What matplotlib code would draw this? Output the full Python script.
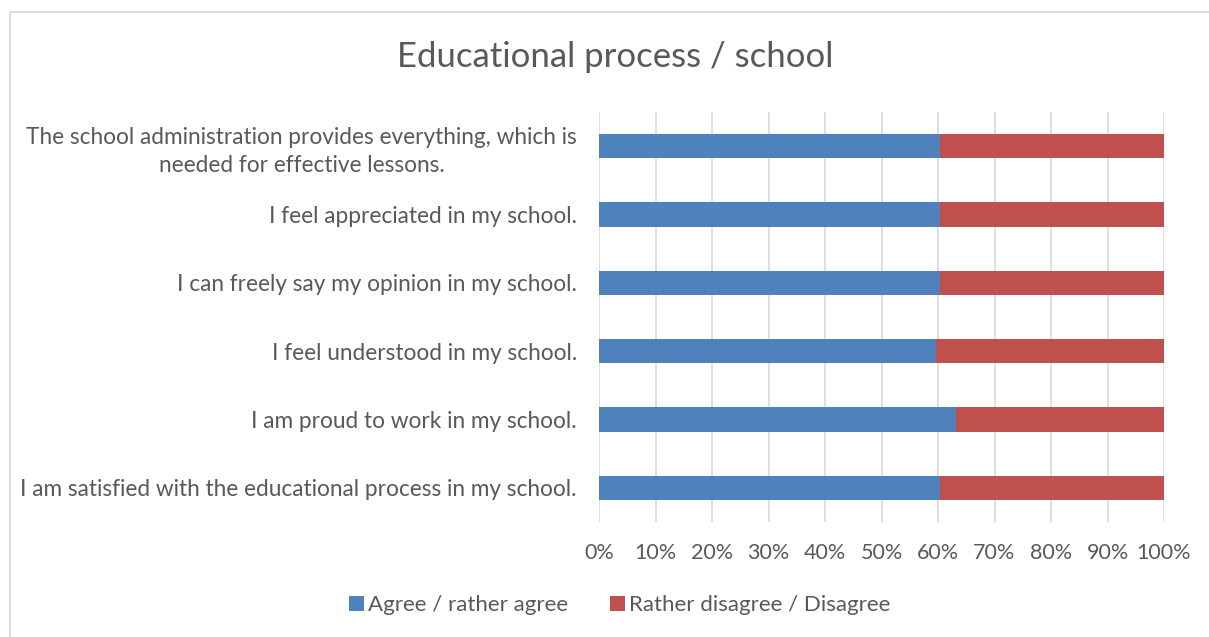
import numpy as np
import matplotlib.pyplot as plt
from matplotlib.patches import Rectangle

# survey statements (bottom to top as they appear on the chart)
statements = [
    "I am satisfied with the educational process in my school.",
    "I am proud to work in my school.",
    "I feel understood in my school.",
    "I can freely say my opinion in my school.",
    "I feel appreciated in my school.",
    "The school administration provides everything, which is\nneeded for effective lessons.",
]
agree = [60.3, 63.1, 59.6, 60.3, 60.3, 60.3]
disagree = [100 - a for a in agree]
series_names = ["Agree / rather agree", "Rather disagree / Disagree"]
xticks = list(range(0, 101, 10))

blue = '#4F81BD'
red = '#C0504D'
grey_txt = '#595959'

plt.rcParams['font.family'] = ['Lato', 'DejaVu Sans']

fig = plt.figure(figsize=(12.09, 6.37), dpi=100)
ax = fig.add_axes([599/1209, 1 - 522/637, 565/1209, 410/637])

# chart frame
fig.patches.append(Rectangle((10/1209, -0.01), 1.0, 1 - 12/637 + 0.01,
                             transform=fig.transFigure, fill=False,
                             edgecolor='#d9d9d9', linewidth=1.3))

y = np.arange(len(statements))
ax.barh(y, agree, height=0.36, color=blue, label=series_names[0], zorder=3)
ax.barh(y, disagree, left=agree, height=0.36, color=red, label=series_names[1], zorder=3)

ax.set_xlim(0, 100)
ax.set_ylim(-0.5, len(statements) - 0.5)
ax.set_xticks(xticks)
ax.set_xticklabels([f"{t}%" for t in xticks], fontsize=15.5)
ax.set_yticks(y)
ax.set_yticklabels(statements, multialignment='center', linespacing=1.4, fontsize=16.3)

ax.grid(axis='x', color='#d9d9d9', linewidth=1.2, zorder=0)
for s in ax.spines.values():
    s.set_visible(False)
ax.tick_params(axis='both', length=0, colors=grey_txt)
ax.tick_params(axis='x', pad=15)
ax.tick_params(axis='y', pad=16)

fig.text(615/1209, 1 - 57/637, "Educational process / school", ha='center', va='center',
         fontsize=25, color=grey_txt)

fig.legend(loc='center', bbox_to_anchor=(620/1209, 1 - 605/637), ncol=2, frameon=False,
           fontsize=16, labelcolor=grey_txt, handlelength=0.65, handleheight=0.65,
           handletextpad=0.2, columnspacing=1.9)

fig.savefig('out.png', dpi=100)
